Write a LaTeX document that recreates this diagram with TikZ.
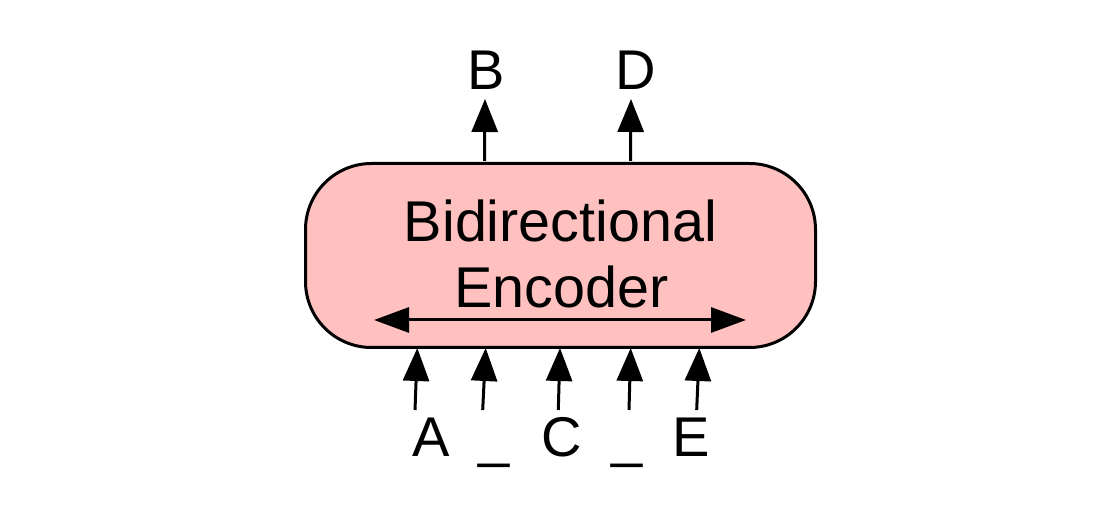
\documentclass[tikz,border=0pt]{standalone}
\usepackage{fontspec}
\setmainfont{Liberation Sans}
\usetikzlibrary{arrows.meta}
\definecolor{encfill}{RGB}{255,192,192}
\tikzset{
  encbox/.style={draw=black, line width=3pt, fill=encfill, rounded corners=66pt,
    minimum width=510pt, minimum height=184pt, inner sep=0pt},
  bigtext/.style={font=\fontsize{56}{66}\selectfont, inner sep=0pt, anchor=base},
  boxtext/.style={font=\fontsize{57.5}{66}\selectfont, inner sep=0pt, anchor=base},
  arr/.style={line width=3pt, -{Triangle[length=33pt,width=26pt]}},
  dblarr/.style={line width=3pt, {Triangle[length=35pt,width=25pt]}-{Triangle[length=35pt,width=25pt]}}
}
\begin{document}
\begin{tikzpicture}[x=1pt,y=-1pt]
\useasboundingbox (0,0) rectangle (1112,510);
% box
\node[encbox] (enc) at (560.5,255.5) {};
\node[boxtext] (t1) at (560.5,242) {Bidirectional};
\node[boxtext] (t2) at (561.5,308) {Encoder};
% inner bidirectional arrow
\coordinate (il) at (374,320);
\coordinate (ir) at (746,320);
\draw[dblarr] (il) -- (ir);
% top outputs
\node[bigtext] (B) at (486,90) {B};
\node[bigtext] (D) at (636,90) {D};
\coordinate (b0) at (484.5,161);
\coordinate (b1) at (485,99);
\coordinate (d0) at (630.5,161);
\coordinate (d1) at (631,99);
\draw[arr] (b0) -- (b1);
\draw[arr] (d0) -- (d1);
% bottom inputs
\node[bigtext] (A) at (431,457) {A};
\node[bigtext] (u1) at (494.5,457) {\_};
\node[bigtext] (C) at (562,457) {C};
\node[bigtext] (u2) at (627,457) {\_};
\node[bigtext] (E) at (691,457) {E};
\coordinate (a0) at (415,410);   \coordinate (a1) at (417.3,348);
\coordinate (u10) at (482.7,410); \coordinate (u11) at (485.7,348);
\coordinate (c0) at (558.3,410); \coordinate (c1) at (560,348);
\coordinate (u20) at (629,410);  \coordinate (u21) at (630.7,348);
\coordinate (e0) at (696.7,410); \coordinate (e1) at (699.3,348);
\draw[arr] (a0) -- (a1);
\draw[arr] (u10) -- (u11);
\draw[arr] (c0) -- (c1);
\draw[arr] (u20) -- (u21);
\draw[arr] (e0) -- (e1);
\end{tikzpicture}
\end{document}
